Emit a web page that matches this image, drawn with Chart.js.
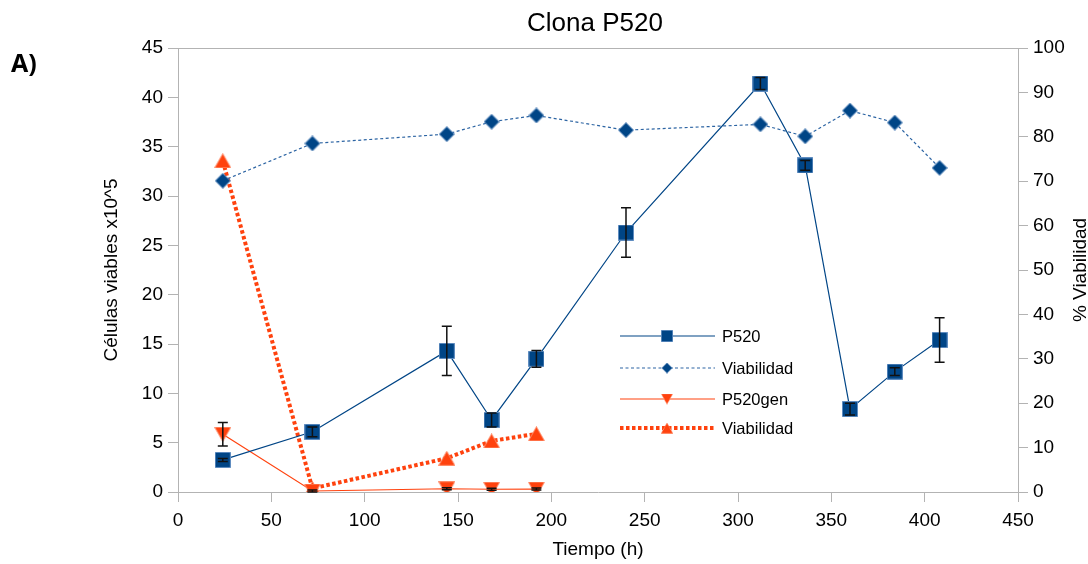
<!DOCTYPE html>
<html>
<head>
<meta charset="utf-8">
<script src="https://cdn.jsdelivr.net/npm/chart.js@4/dist/chart.umd.min.js"></script>
<style>
html, body { margin: 0; padding: 0; background: #fff; }
#wrap { width: 1088px; height: 564px; }
</style>
</head>
<body>
<div id="wrap"><canvas id="myChart" width="1088" height="564"></canvas></div>
<script>
// data
const tiempo = [24, 72, 144, 168, 192, 240, 312, 336, 360, 384, 408];
const p520 = [3.25, 6.1, 14.3, 7.3, 13.5, 26.3, 41.4, 33.1, 8.4, 12.2, 15.4];
const p520Err = [0.15, 0.5, 2.5, 0.7, 0.85, 2.5, 0.6, 0.5, 0.6, 0.4, 2.25];
const viabilidad = [70.1, 78.5, 80.6, 83.4, 84.8, 81.5, 82.8, 80.1, 85.9, 83.2, 73.0];

const tiempoGen = [24, 72, 144, 168, 192];
const p520gen = [5.85, 0.1, 0.33, 0.28, 0.3];
const p520genErr = [1.2, 0.1, 0.1, 0.1, 0.1];
const viabilidadGen = [74.6, 0.8, 7.6, 11.5, 13.1];

const blue = '#004586';
const orange = '#ff420e';
const gray = '#b3b3b3';
const FONT = "'Liberation Sans', Arial, sans-serif";

Chart.defaults.font.family = FONT;
Chart.defaults.color = '#000';

function toPoints(xs, ys) {
	return xs.map((x, i) => ({ x: x, y: ys[i] }));
}

// little canvas sprites for the markers
function marker(shape, w, h, fill, edge) {
	const c = document.createElement('canvas');
	c.width = w; c.height = h;
	const g = c.getContext('2d');
	g.beginPath();
	if (shape === 'square') {
		g.rect(0.5, 0.5, w - 1, h - 1);
	} else if (shape === 'diamond') {
		g.moveTo(w / 2, 0.5); g.lineTo(w - 0.5, h / 2); g.lineTo(w / 2, h - 0.5); g.lineTo(0.5, h / 2); g.closePath();
	} else if (shape === 'up') {
		g.moveTo(w / 2, 0.5); g.lineTo(w - 0.5, h - 0.5); g.lineTo(0.5, h - 0.5); g.closePath();
	} else {
		g.moveTo(0.5, 0.5); g.lineTo(w - 0.5, 0.5); g.lineTo(w / 2, h - 0.5); g.closePath();
	}
	g.fillStyle = fill; g.fill();
	g.strokeStyle = edge; g.lineWidth = 1; g.stroke();
	return c;
}

const sqImg = marker('square', 16, 16, blue, '#5f8cc0');
const diaImg = marker('diamond', 16, 16, blue, '#5f8cc0');
const downImg = marker('down', 17, 15, orange, '#ff8a66');
const upImg = marker('up', 17, 15, orange, '#ff8a66');

const data = {
	datasets: [
		{
			label: 'P520',
			data: toPoints(tiempo, p520),
			errors: p520Err,
			yAxisID: 'y',
			borderColor: blue,
			backgroundColor: blue,
			borderWidth: 1.2,
			pointStyle: sqImg,
			legendSize: [12, 12]
		},
		{
			label: 'Viabilidad',
			data: toPoints(tiempo, viabilidad),
			yAxisID: 'y1',
			borderColor: '#2c64a3',
			backgroundColor: blue,
			borderWidth: 1.2,
			borderDash: [3, 2.5],
			pointStyle: diaImg,
			legendSize: [11, 11]
		},
		{
			label: 'P520gen',
			data: toPoints(tiempoGen, p520gen),
			errors: p520genErr,
			yAxisID: 'y',
			borderColor: orange,
			backgroundColor: orange,
			borderWidth: 1.2,
			pointStyle: downImg,
			legendSize: [12, 11]
		},
		{
			label: 'Viabilidad',
			data: toPoints(tiempoGen, viabilidadGen),
			yAxisID: 'y1',
			borderColor: orange,
			backgroundColor: orange,
			borderWidth: 4,
			borderDash: [3.5, 2.5],
			borderCapStyle: 'butt',
			pointStyle: upImg,
			legendSize: [12, 11]
		}
	]
};

const extras = {
	id: 'extras',
	afterDatasetsDraw(chart) {
		const ctx = chart.ctx;
		chart.data.datasets.forEach((ds, i) => {
			if (!ds.errors) return;
			const meta = chart.getDatasetMeta(i);
			const sc = chart.scales[ds.yAxisID];
			ctx.save();
			ctx.strokeStyle = '#111';
			ctx.lineWidth = 1.5;
			meta.data.forEach((pt, j) => {
				const v = ds.data[j].y, e = ds.errors[j];
				const ya = sc.getPixelForValue(v - e), yb = sc.getPixelForValue(v + e);
				ctx.beginPath();
				ctx.moveTo(pt.x, ya); ctx.lineTo(pt.x, yb);
				ctx.moveTo(pt.x - 5, ya); ctx.lineTo(pt.x + 5, ya);
				ctx.moveTo(pt.x - 5, yb); ctx.lineTo(pt.x + 5, yb);
				ctx.stroke();
			});
			ctx.restore();
		});
	},
	afterDraw(chart) {
		const ctx = chart.ctx;
		const area = chart.chartArea;
		ctx.save();

		// top frame line
		ctx.strokeStyle = gray;
		ctx.lineWidth = 1;
		ctx.beginPath();
		ctx.moveTo(area.left, area.top + 0.5);
		ctx.lineTo(area.right, area.top + 0.5);
		ctx.stroke();

		// chart title and panel letter
		ctx.fillStyle = '#000';
		ctx.textAlign = 'center';
		ctx.textBaseline = 'alphabetic';
		ctx.font = '26px ' + FONT;
		ctx.fillText('Clona P520', 595, 31);
		ctx.textAlign = 'left';
		ctx.font = "bold 25px 'Open Sans', sans-serif";
		ctx.fillText('A)', 11, 72);

		// right axis title, reads bottom to top
		ctx.save();
		ctx.translate(1086, (area.top + area.bottom) / 2);
		ctx.rotate(-Math.PI / 2);
		ctx.textAlign = 'center';
		ctx.font = '19px ' + FONT;
		ctx.fillText('% Viabilidad', 0, 0);
		ctx.restore();

		// legend inside the plot
		const rows = [336, 368, 399, 428];
		chart.data.datasets.forEach((ds, i) => {
			const y = rows[i];
			ctx.save();
			ctx.strokeStyle = ds.borderColor;
			ctx.lineWidth = ds.borderWidth;
			ctx.lineCap = 'butt';
			ctx.setLineDash(ds.borderDash || []);
			ctx.beginPath();
			ctx.moveTo(620, y);
			ctx.lineTo(715, y);
			ctx.stroke();
			ctx.restore();
			const s = ds.legendSize;
			ctx.drawImage(ds.pointStyle, 667 - s[0] / 2, y - s[1] / 2, s[0], s[1]);
			ctx.fillStyle = '#000';
			ctx.textAlign = 'left';
			ctx.textBaseline = 'middle';
			ctx.font = '16.5px ' + FONT;
			ctx.fillText(ds.label, 722, y + 1);
		});
		ctx.restore();
	}
};

const axisGrid = {
	drawOnChartArea: false,
	drawTicks: true,
	tickLength: 10,
	color: gray
};

const config = {
	type: 'line',
	data: data,
	options: {
		responsive: false,
		animation: false,
		layout: { padding: { top: 48, left: 0, right: 0, bottom: 0 } },
		plugins: {
			legend: { display: false },
			title: { display: false },
			tooltip: { enabled: false }
		},
		elements: {
			line: { tension: 0, fill: false },
			point: { radius: 8, hoverRadius: 8 }
		},
		scales: {
			x: {
				type: 'linear',
				min: 0,
				max: 450,
				ticks: { stepSize: 50, font: { size: 19 }, padding: 7, maxRotation: 0 },
				grid: axisGrid,
				border: { color: gray },
				title: { display: true, text: 'Tiempo (h)', font: { size: 19 }, padding: { top: 0, bottom: 3 } },
				afterFit(scale) { scale.height = 72; }
			},
			y: {
				position: 'left',
				min: 0,
				max: 45,
				ticks: { stepSize: 5, font: { size: 19 }, padding: 5 },
				grid: axisGrid,
				border: { color: gray },
				title: { display: true, text: 'Células viables x10^5', font: { size: 19 }, padding: { top: 100, bottom: 0 } },
				afterFit(scale) { scale.width = 178; }
			},
			y1: {
				position: 'right',
				min: 0,
				max: 100,
				ticks: { stepSize: 10, font: { size: 19 }, padding: 5 },
				grid: axisGrid,
				border: { color: gray },
				afterFit(scale) { scale.width = 70; }
			}
		}
	},
	plugins: [extras]
};

const myChart = new Chart(document.getElementById('myChart'), config);
</script>
</body>
</html>
